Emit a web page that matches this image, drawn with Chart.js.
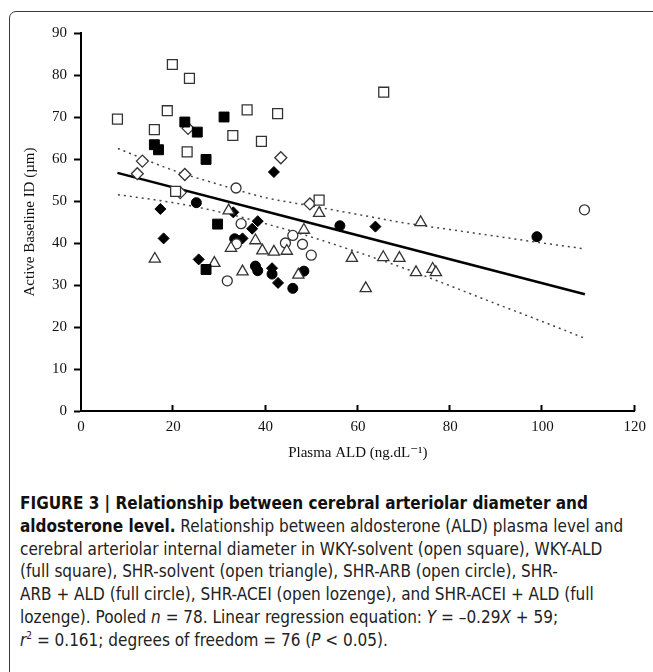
<!DOCTYPE html>
<html>
<head>
<meta charset="utf-8">
<script src="https://cdn.jsdelivr.net/npm/chart.js@4"></script>
<style>
  html, body { margin: 0; padding: 0; background: #fff; }
  body { width: 653px; height: 672px; position: relative; overflow: hidden; }
  #frame {
    position: absolute; left: 9px; top: 11px; width: 700px; height: 700px;
    border: 1.5px solid #3a3a3a; border-radius: 7px; box-sizing: border-box;
  }
  #c { position: absolute; left: 0; top: 0; }
  #cap {
    position: absolute; left: 20px; top: 492px;
    font-family: "Liberation Sans Narrow", "DejaVu Sans Condensed", "Liberation Sans", sans-serif;
    font-size: 17px; line-height: 22.8px; color: #222; white-space: nowrap;
  }
  #cap b { color: #111; }
</style>
</head>
<body>
<div id="frame"></div>
<canvas id="c" width="653" height="470"></canvas>
<div id="cap">
<b>FIGURE 3 | Relationship between cerebral arteriolar diameter and</b><br>
<b>aldosterone level.</b> Relationship between aldosterone (ALD) plasma level and<br>
cerebral arteriolar internal diameter in WKY-solvent (open square), WKY-ALD<br>
(full square), SHR-solvent (open triangle), SHR-ARB (open circle), SHR-<br>
ARB + ALD (full circle), SHR-ACEI (open lozenge), and SHR-ACEI + ALD (full<br>
lozenge). Pooled <i>n</i> = 78. Linear regression equation: <i>Y</i> = –0.29<i>X</i> + 59;<br>
<i>r</i><sup style="font-size:10px;line-height:0">2</sup> = 0.161; degrees of freedom = 76 (<i>P</i> &lt; 0.05).
</div>
<script>
// group data: plasma ALD (x) and active baseline ID (y)
const wkySolventX = [7.9, 19.8, 23.5, 18.7, 15.9, 23.0, 32.9, 36.0, 39.1, 42.6, 20.5, 51.6, 65.6];
const wkySolventY = [69.5, 82.5, 79.2, 71.5, 67.0, 61.7, 65.6, 71.7, 64.2, 70.8, 52.3, 50.2, 75.9];

const wkyAldX = [15.9, 16.8, 22.5, 25.2, 27.1, 31.0, 29.6, 27.1];
const wkyAldY = [63.4, 62.2, 68.8, 66.4, 59.9, 70.0, 44.5, 33.7];

const shrSolventX = [16.0, 28.9, 32.5, 35.0, 37.8, 39.3, 41.8, 44.6, 48.3, 47.1, 51.6, 73.6, 58.7, 65.5, 69.0, 72.6, 76.2, 76.9, 61.7, 32.0];
const shrSolventY = [36.2, 35.2, 38.8, 33.2, 40.6, 38.2, 37.9, 38.1, 43.1, 32.4, 47.1, 44.9, 36.4, 36.6, 36.4, 33.0, 33.8, 33.0, 29.2, 47.7];

const shrArbX = [33.6, 34.7, 33.7, 31.7, 45.9, 44.3, 48.0, 49.9, 109.1];
const shrArbY = [53.1, 44.6, 39.8, 31.0, 41.8, 40.0, 39.7, 37.1, 47.9];

const shrArbAldX = [25.0, 33.3, 34.0, 37.8, 38.3, 41.4, 45.9, 48.3, 56.1, 98.8];
const shrArbAldY = [49.6, 41.0, 40.6, 34.5, 33.4, 32.6, 29.2, 33.3, 44.1, 41.5];

const shrAceiX = [12.2, 13.3, 23.2, 22.5, 43.3, 21.5, 49.6];
const shrAceiY = [56.5, 59.5, 67.3, 56.3, 60.3, 52.0, 49.3];

const shrAceiAldX = [17.2, 17.9, 25.5, 33.0, 35.0, 37.1, 38.3, 41.4, 42.7, 41.8, 63.8];
const shrAceiAldY = [48.1, 41.1, 36.1, 47.3, 41.1, 43.4, 45.2, 34.0, 30.5, 56.9, 43.9];

// regression line and its dotted band
const fitX = [7.9, 109.2];
const fitY = [56.7, 27.8];
const bandX = [8, 20, 30, 40, 50, 60, 70, 80, 90, 100, 109.2];
const upperY = [62.5, 57.3, 53.9, 50.8, 48.8, 46.8, 44.8, 43.2, 41.6, 40.0, 38.6];
const lowerY = [51.5, 49.6, 47.4, 44.6, 41.4, 37.8, 34.0, 29.8, 25.5, 21.3, 17.3];

const xTicks = [0, 20, 40, 60, 80, 100, 120];
const yTicks = [0, 10, 20, 30, 40, 50, 60, 70, 80, 90];

const pts = (xs, ys) => xs.map((x, i) => ({ x: x, y: ys[i] }));

function marker(label, xs, ys, style, r, filled) {
  return {
    label: label,
    data: pts(xs, ys),
    pointStyle: style,
    pointRadius: r,
    pointBorderWidth: filled ? 1 : 1.3,
    pointBackgroundColor: filled ? '#000' : '#fff',
    pointBorderColor: filled ? '#000' : '#333',
    showLine: false
  };
}

function line(label, xs, ys, dash, width, color) {
  return {
    label: label,
    data: pts(xs, ys),
    showLine: true,
    pointRadius: 0,
    borderColor: color,
    borderWidth: width,
    borderDash: dash,
    cubicInterpolationMode: 'monotone',
    fill: false
  };
}

const serif = { family: '"Liberation Serif", "DejaVu Serif", serif', size: 15 };

// x-axis ticks point up into the plot
const innerTicks = {
  id: 'innerTicks',
  afterDraw(chart) {
    const ctx = chart.ctx;
    const xs = chart.scales.x;
    const bottom = chart.chartArea.bottom;
    ctx.save();
    ctx.strokeStyle = '#000';
    ctx.lineWidth = 2;
    xTicks.slice(1).forEach(v => {
      const px = Math.round(xs.getPixelForValue(v)) - 0.5;
      ctx.beginPath();
      ctx.moveTo(px, bottom);
      ctx.lineTo(px, bottom - 6);
      ctx.stroke();
    });
    ctx.restore();
  }
};

new Chart(document.getElementById('c').getContext('2d'), {
  type: 'scatter',
  data: {
    datasets: [
      marker('WKY-solvent', wkySolventX, wkySolventY, 'rect', 7, false),
      marker('WKY-ALD', wkyAldX, wkyAldY, 'rect', 7, true),
      marker('SHR-solvent', shrSolventX, shrSolventY, 'triangle', 6.5, false),
      marker('SHR-ARB', shrArbX, shrArbY, 'circle', 5, false),
      marker('SHR-ARB + ALD', shrArbAldX, shrArbAldY, 'circle', 5, true),
      marker('SHR-ACEI', shrAceiX, shrAceiY, 'rectRot', 6, false),
      marker('SHR-ACEI + ALD', shrAceiAldX, shrAceiAldY, 'rectRot', 5.5, true),
      line('fit', fitX, fitY, [], 2.5, '#000'),
      line('upper', bandX, upperY, [2, 4], 1.5, '#444'),
      line('lower', bandX, lowerY, [2, 4], 1.5, '#444')
    ]
  },
  options: {
    responsive: false,
    animation: false,
    events: [],
    layout: { padding: { left: 17, top: 33, right: 13, bottom: 4 } },
    plugins: {
      legend: { display: false },
      tooltip: { enabled: false }
    },
    scales: {
      x: {
        type: 'linear',
        min: 0,
        max: 120,
        afterFit: s => { s.height = 55; },
        afterBuildTicks: s => { s.ticks = xTicks.map(v => ({ value: v })); },
        ticks: { font: serif, color: '#111', padding: 7, maxRotation: 0 },
        grid: { drawOnChartArea: false, drawTicks: false },
        border: { color: '#000', width: 2 },
        title: { display: true, text: 'Plasma ALD (ng.dL⁻¹)', font: serif, color: '#111' }
      },
      y: {
        type: 'linear',
        min: 0,
        max: 90,
        afterFit: s => { s.width = 64; },
        afterBuildTicks: s => { s.ticks = yTicks.map(v => ({ value: v })); },
        ticks: { font: serif, color: '#111', padding: 7 },
        grid: { drawOnChartArea: false, tickLength: 7, tickColor: '#000', tickWidth: 2 },
        border: { color: '#000', width: 2 },
        title: { display: true, text: 'Active Baseline ID (µm)', font: serif, color: '#111' }
      }
    }
  },
  plugins: [innerTicks]
});
</script>
</body>
</html>
